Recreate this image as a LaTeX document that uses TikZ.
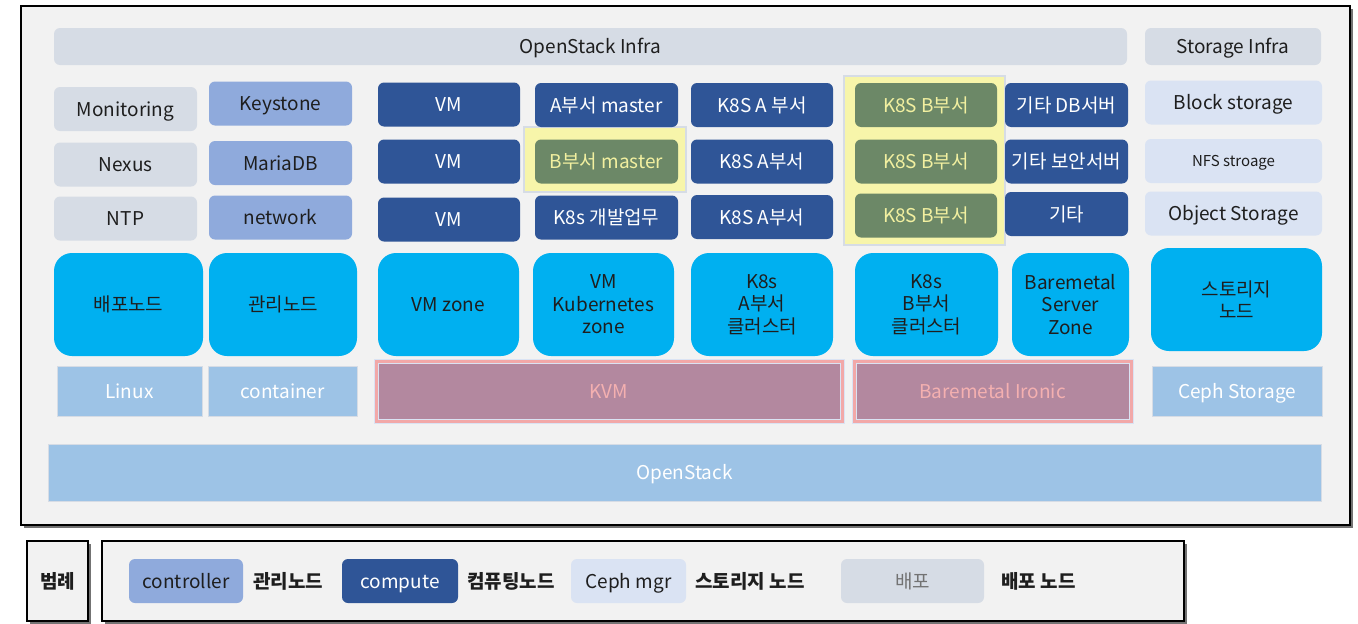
\documentclass[tikz,border=0pt]{standalone}
\usepackage{fontspec}
\setmainfont{Noto Sans CJK KR}
\usetikzlibrary{positioning,shadows}

\definecolor{infragray}{HTML}{D6DCE5}
\definecolor{ctrlblue}{HTML}{8FAADC}
\definecolor{compblue}{HTML}{2F5597}
\definecolor{storblue}{HTML}{DAE3F3}
\definecolor{zonecyan}{HTML}{00B0F0}
\definecolor{baseblue}{HTML}{9DC3E6}
\definecolor{hypmauve}{HTML}{B3889F}
\definecolor{hyppink}{HTML}{F2A8A8}
\definecolor{hyptext}{HTML}{F4B0B0}
\definecolor{teamgreen}{HTML}{6C8867}
\definecolor{teamtext}{HTML}{F2F0A0}
\definecolor{hlyellow}{HTML}{F7F5AA}
\definecolor{framegray}{HTML}{F2F2F2}
\definecolor{inktext}{HTML}{1E1E1E}

\tikzset{
  box/.style={rounded corners=6pt, inner sep=1pt, minimum height=44pt,
    text=inktext, font=\fontsize{19}{22.5}\selectfont},
  oneline/.style={text height=14pt, text depth=0pt},
  infrabox/.style={box, oneline, fill=infragray},
  ctrlbox/.style={box, oneline, fill=ctrlblue},
  compbox/.style={box, oneline, fill=compblue, text=white},
  storbox/.style={box, oneline, fill=storblue},
  teambox/.style={box, oneline, fill=teamgreen, text=teamtext},
  hlbox/.style={fill=hlyellow, draw=infragray, line width=1.5pt},
  zonebox/.style={box, fill=zonecyan, rounded corners=18pt, minimum height=103pt, align=center},
  basebox/.style={box, oneline, rounded corners=0pt, fill=baseblue, draw=infragray, text=white, minimum height=50pt},
  hypbox/.style={box, oneline, rounded corners=0pt, fill=hypmauve, draw=storblue, double=hyppink,
    double distance=3pt, line width=1pt, text=hyptext, minimum height=60pt},
  framebox/.style={fill=framegray, draw=black, line width=1.6pt,
    drop shadow={shadow xshift=2.5pt, shadow yshift=-2.5pt, fill=black!55, opacity=1}},
  keylabel/.style={oneline, font=\fontsize{19}{22.5}\selectfont\bfseries, text=inktext, inner sep=1pt}
}

\begin{document}
\begin{tikzpicture}[x=1pt,y=-1pt]
  \useasboundingbox[fill=white] (0,0) rectangle (1358,624);

  %% outer frame
  \node[framebox, minimum width=1329pt, minimum height=519pt] (frame) at (685.5,265.5) {};

  %% infra headers
  \node[infrabox, minimum width=1073pt, minimum height=37pt] (osinfra) at (590.5,46.5) {OpenStack Infra};
  \node[infrabox, minimum width=176pt, minimum height=37pt] (stinfra) at (1233,46.5) {Storage Infra};

  %% deploy services
  \node[infrabox, minimum width=143pt] (mon) at (125.5,109) {Monitoring};
  \node[infrabox, minimum width=143pt] (nexus) at (125.5,164.5) {Nexus};
  \node[infrabox, minimum width=143pt] (ntp) at (125.5,218.5) {NTP};

  %% controller services
  \node[ctrlbox, minimum width=143pt] (keystone) at (280.5,103.5) {Keystone};
  \node[ctrlbox, minimum width=143pt] (mariadb) at (280.5,163) {MariaDB};
  \node[ctrlbox, minimum width=143pt] (network) at (280.5,217.5) {network};

  %% highlights
  \node[hlbox, minimum width=162pt, minimum height=65pt] (hlmaster) at (605,159.5) {};
  \node[hlbox, minimum width=161pt, minimum height=169pt] (hlteamb) at (924.5,160.5) {};

  %% compute instances
  \node[compbox, minimum width=142pt] (vma) at (449,104.5) {VM};
  \node[compbox, minimum width=142pt] (vmb) at (449,161.5) {VM};
  \node[compbox, minimum width=142pt] (vmc) at (449,219.5) {VM};

  \node[compbox, minimum width=143pt] (amaster) at (606.5,105) {A부서 master};
  \node[teambox, minimum width=143pt] (bmaster) at (606.5,161.5) {B부서 master};
  \node[compbox, minimum width=143pt] (devk8s) at (606.5,217.5) {K8s 개발업무};

  \node[compbox, minimum width=142pt] (k8saa) at (762,105) {K8S A 부서};
  \node[compbox, minimum width=142pt] (k8sab) at (762,161.5) {K8S A부서};
  \node[compbox, minimum width=142pt] (k8sac) at (762,217) {K8S A부서};

  \node[teambox, minimum width=142pt] (k8sba) at (926,105) {K8S B부서};
  \node[teambox, minimum width=142pt] (k8sbb) at (926,161.5) {K8S B부서};
  \node[teambox, minimum width=142pt] (k8sbc) at (926,215.5) {K8S B부서};

  \node[compbox, minimum width=123pt] (dbsrv) at (1066.5,105) {기타 DB서버};
  \node[compbox, minimum width=123pt] (secsrv) at (1066.5,161.5) {기타 보안서버};
  \node[compbox, minimum width=123pt] (etcsrv) at (1066.5,214) {기타};

  %% storage services
  \node[storbox, minimum width=177pt] (block) at (1233.5,102.5) {Block storage};
  \node[storbox, minimum width=177pt, font=\fontsize{15}{18}\selectfont, text height=11pt] (nfs) at (1233.5,161) {NFS stroage};
  \node[storbox, minimum width=177pt] (object) at (1233.5,213.5) {Object Storage};

  %% zones
  \node[zonebox, minimum width=149pt] (deploynode) at (128.5,304.5) {배포노드};
  \node[zonebox, minimum width=148pt] (mgmtnode) at (283,304.5) {관리노드};
  \node[zonebox, minimum width=141pt] (vmzone) at (448.5,304.5) {VM zone};
  \node[zonebox, minimum width=141pt] (kubezone) at (603.5,304.5) {VM\\Kubernetes\\zone};
  \node[zonebox, minimum width=142pt] (clustera) at (762,304.5) {K8s\\A부서\\클러스터};
  \node[zonebox, minimum width=143pt] (clusterb) at (926.5,304.5) {K8s\\B부서\\클러스터};
  \node[zonebox, minimum width=117pt] (bmzone) at (1070.5,304.5) {Baremetal\\Server\\Zone};
  \node[zonebox, minimum width=171pt] (stornode) at (1236.5,299.5) {스토리지\\노드};

  %% base layer
  \node[basebox, minimum width=145pt] (linux) at (129.5,391) {Linux};
  \node[basebox, minimum width=149pt] (container) at (282.5,391) {container};
  \node[hypbox, minimum width=466pt] (kvm) at (609,391) {KVM};
  \node[hypbox, minimum width=277pt] (ironic) at (992.5,391) {Baremetal Ironic};
  \node[basebox, minimum width=170pt] (ceph) at (1237,391) {Ceph Storage};

  %% openstack
  \node[basebox, minimum width=1273pt, minimum height=57pt] (openstack) at (684.5,472.5) {OpenStack};

  %% legend
  \node[framebox, line width=1.4pt, minimum width=61pt, minimum height=80pt, keylabel] (legendtitle) at (57.5,581) {범례};
  \node[framebox, line width=1.4pt, minimum width=1082pt, minimum height=80pt] (legend) at (643,581) {};

  \node[ctrlbox, minimum width=114pt] (ctrlkey) at (186,581) {controller};
  \node[keylabel, right=9pt of ctrlkey] (ctrllbl) {관리노드};
  \node[compbox, minimum width=116pt] (compkey) at (400,581) {compute};
  \node[keylabel, right=8pt of compkey] (complbl) {컴퓨팅노드};
  \node[storbox, minimum width=115pt] (storkey) at (628.5,581) {Ceph mgr};
  \node[keylabel, right=8pt of storkey] (storlbl) {스토리지 노드};
  \node[infrabox, minimum width=143pt, text=black!55] (deploykey) at (912.5,581) {배포};
  \node[keylabel, right=16pt of deploykey] (deploylbl) {배포 노드};
\end{tikzpicture}
\end{document}
